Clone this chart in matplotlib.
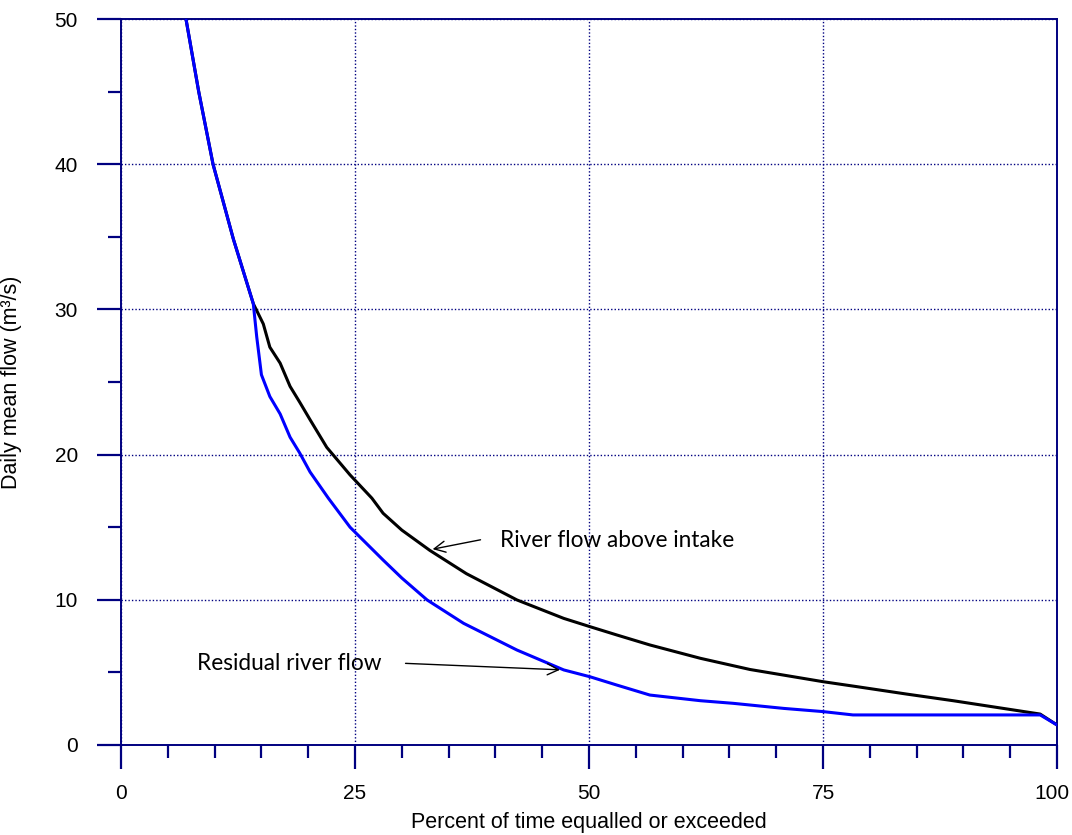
import matplotlib
matplotlib.use('Agg')
import matplotlib.pyplot as plt
import matplotlib.transforms as mtransforms
from matplotlib.ticker import MultipleLocator

# flow duration curves
above_x = [6.94, 8.3, 9.83, 12.0, 14.13, 15.2, 15.9, 17.0, 18.06, 19.1, 20.2, 21.98, 24.47, 26.8,
           28.0, 30.0, 33.0, 36.9, 42.3, 47.3, 50.1, 52.96, 56.5, 61.9, 67.2, 75.0, 78.6, 83.9,
           88.9, 98.2, 100]
above_y = [50, 45, 40, 34.85, 30.4, 29.0, 27.4, 26.3, 24.7, 23.6, 22.4, 20.5, 18.6, 17.0,
           15.96, 14.8, 13.4, 11.8, 9.99, 8.72, 8.15, 7.58, 6.89, 5.97, 5.2, 4.36, 4.02, 3.51,
           3.05, 2.13, 1.38]

resid_x = [6.94, 8.3, 9.83, 12.0, 14.13, 14.5, 15.0, 15.9, 17.0, 18.06, 19.1, 20.2, 22.15, 24.47,
           28.0, 30.0, 32.7, 36.6, 42.3, 47.3, 50.1, 52.96, 56.5, 61.9, 65.4, 70.8, 75.0, 78.2,
           98.2, 100]
resid_y = [50, 45, 40, 34.85, 30.4, 28.1, 25.5, 24.0, 22.8, 21.2, 20.1, 18.8, 17.0, 15.0,
           12.74, 11.5, 9.99, 8.38, 6.54, 5.17, 4.70, 4.13, 3.44, 3.05, 2.87, 2.52, 2.30, 2.07,
           2.07, 1.38]

x_ticks = [0, 25, 50, 75, 100]
y_ticks = [0, 10, 20, 30, 40, 50]

navy = '#000080'
plt.rcParams['font.family'] = 'Liberation Sans'

fig = plt.figure(figsize=(10.72, 8.35), dpi=100)
ax = fig.add_axes([0.1129, 0.1078, 0.8731, 0.8694])

ax.plot(above_x, above_y, color='black', lw=2.2, zorder=3)
ax.plot(resid_x, resid_y, color='#0000ff', lw=2.2, zorder=4)

ax.set_xlim(0, 100)
ax.set_ylim(0, 50)
ax.set_xticks(x_ticks)
ax.set_yticks(y_ticks)
ax.xaxis.set_minor_locator(MultipleLocator(5))
ax.yaxis.set_minor_locator(MultipleLocator(5))
ax.tick_params(which='major', direction='out', length=17, width=1.6, color=navy, labelsize=15)
ax.tick_params(which='minor', direction='out', length=9.5, width=1.6, color=navy)
ax.tick_params(axis='x', which='major', pad=11)
ax.tick_params(axis='y', which='major', pad=14)
for s in ax.spines.values():
    s.set_color(navy)
    s.set_linewidth(1.4)
ax.grid(True, which='major', color=navy, linestyle=(0, (1, 1.5)), linewidth=1.0)

# keep the "100" label inside the figure
fig.canvas.draw()
last = ax.xaxis.get_major_ticks()[len(x_ticks) - 1].label1
last.set_transform(last.get_transform() + mtransforms.ScaledTranslation(-5 / 100, 0, fig.dpi_scale_trans))

ax.set_xlabel('Percent of time equalled or exceeded', fontsize=15.5)
ax.set_ylabel('Daily mean flow (m³/s)', fontsize=15.5)
ax.xaxis.label.set_va('center')
ax.xaxis.set_label_coords(0.5, -0.1074)
ax.yaxis.label.set_va('center')
ax.yaxis.set_label_coords(-0.1175, 0.5)

ann_font = {'family': 'Lato', 'size': 16.3}
ax.annotate('', xy=(33.0, 13.45), xytext=(38.7, 14.17),
            arrowprops=dict(arrowstyle='->', color='black', lw=1, mutation_scale=20), zorder=5)
ax.text(40.5, 14.1, 'River flow above intake', fontdict=ann_font, va='center', ha='left')
ax.annotate('', xy=(47.2, 5.17), xytext=(30.1, 5.63),
            arrowprops=dict(arrowstyle='->', color='black', lw=1, mutation_scale=20), zorder=5)
ax.text(8.15, 5.6, 'Residual river flow', fontdict=ann_font, va='center', ha='left')

fig.savefig('out.png', dpi=100)
